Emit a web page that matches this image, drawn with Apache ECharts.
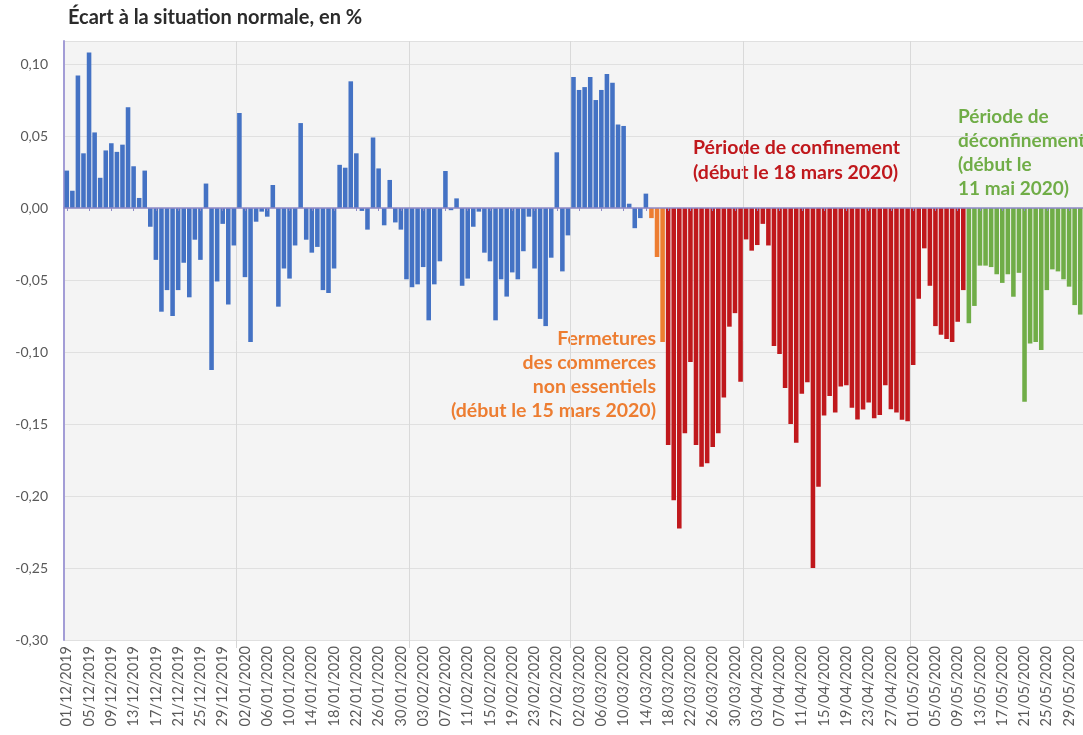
<!DOCTYPE html>
<html><head><meta charset="utf-8">
<script src="https://cdn.jsdelivr.net/npm/echarts@6/dist/echarts.min.js"></script>
<style>html,body{margin:0;padding:0;background:#fff}#c{width:1083px;height:735px}</style>
</head><body><div id="c"></div>
<script>
// ---- categories: one per day, 01/12/2019 .. 31/05/2020
const firstDay = [2019, 11, 1];   // year, month(0-based), day
const dayCount = 183;
const dates = [];
(function () {
  const d = new Date(Date.UTC(firstDay[0], firstDay[1], firstDay[2]));
  for (let i = 0; i < dayCount; i++) {
    const dd = String(d.getUTCDate()).padStart(2, '0');
    const mm = String(d.getUTCMonth() + 1).padStart(2, '0');
    dates.push(dd + '/' + mm + '/' + d.getUTCFullYear());
    d.setUTCDate(d.getUTCDate() + 1);
  }
})();

// ---- values (share)
const valuesDec = [0.026,0.012,0.092,0.038,0.108,0.0525,0.021,0.040,0.045,0.039,0.044,0.070,0.029,0.007,0.026,
  -0.013,-0.036,-0.072,-0.057,-0.075,-0.057,-0.038,-0.062,-0.022,-0.036,0.017,-0.1125,-0.051,-0.011,-0.067,-0.026];
const valuesJan = [0.066,-0.048,-0.093,-0.0095,-0.0025,-0.006,0.016,-0.0685,-0.042,-0.049,-0.026,0.059,-0.022,-0.031,
  -0.027,-0.057,-0.059,-0.042,0.030,0.028,0.088,0.038,-0.002,-0.015,0.049,0.0275,-0.012,0.0195,-0.010,-0.015,-0.0495];
const valuesFeb = [-0.055,-0.053,-0.041,-0.078,-0.053,-0.037,0.0257,-0.0015,0.0067,-0.054,-0.049,-0.013,-0.0025,
  -0.031,-0.037,-0.078,-0.0495,-0.0615,-0.0447,-0.0495,-0.030,-0.006,-0.042,-0.077,-0.082,-0.0345,0.0387,-0.044,-0.019];
const valuesMar = [0.091,0.082,0.084,0.091,0.075,0.082,0.093,0.087,0.058,0.057,0.003,-0.014,-0.007,0.010,
  -0.007,-0.034,-0.093,-0.1646,-0.203,-0.2225,-0.1565,-0.107,-0.1646,-0.1796,-0.1773,-0.166,-0.1565,-0.1315,
  -0.0824,-0.073,-0.1206];
const valuesApr = [-0.0218,-0.0296,-0.0257,-0.011,-0.026,-0.0958,-0.1014,-0.125,-0.150,-0.163,-0.129,-0.121,-0.250,
  -0.1935,-0.144,-0.1306,-0.142,-0.124,-0.123,-0.1387,-0.1468,-0.140,-0.135,-0.146,-0.1438,-0.123,-0.1398,-0.142,
  -0.147,-0.148];
const valuesMay = [-0.109,-0.063,-0.028,-0.054,-0.082,-0.088,-0.091,-0.093,-0.079,-0.057,
  -0.080,-0.068,-0.040,-0.040,-0.041,-0.046,-0.052,-0.046,-0.0616,-0.045,-0.1345,-0.094,-0.093,-0.0986,-0.057,
  -0.0426,-0.044,-0.0495,-0.0546,-0.0674,-0.074];
const values = [].concat(valuesDec, valuesJan, valuesFeb, valuesMar, valuesApr, valuesMay);

// ---- periods
const closureStart = '15/03/2020';
const lockdownStart = '18/03/2020';
const unlockStart = '11/05/2020';

const yTickLabels = ['-0,30','-0,25','-0,20','-0,15','-0,10','-0,05','0,00','0,05','0,10'];

const annotClosure = ['Fermetures', 'des commerces', 'non essentiels', '(début le 15 mars 2020)'];
const annotLockdown = ['Période de confinement', '(début le 18 mars 2020)'];
const annotUnlock = ['Période de', 'déconfinement', '(début le', '11 mai 2020)'];
const titleText = 'Écart à la situation normale, en %';

const COL = { normal: '#4472C4', closure: '#ED7D31', lockdown: '#C0181C', unlock: '#70AD47' };
const iClosure = dates.indexOf(closureStart);
const iLock = dates.indexOf(lockdownStart);
const iUnlock = dates.indexOf(unlockStart);
function colorFor(i) {
  if (i >= iUnlock) return COL.unlock;
  if (i >= iLock) return COL.lockdown;
  if (i >= iClosure) return COL.closure;
  return COL.normal;
}
const isMonthStart = (i, v) => i > 0 && String(dates[i]).slice(0, 2) === '01';

const FONT = 'Lato, "Open Sans", sans-serif';
const chart = echarts.init(document.getElementById('c'), null, { renderer: 'canvas' });
chart.setOption({
  animation: false,
  backgroundColor: '#ffffff',
  textStyle: { fontFamily: FONT },
  grid: { left: 64, right: -2, top: 41, bottom: 95, show: true, backgroundColor: '#f4f4f4', borderWidth: 0 },
  xAxis: [{
    type: 'category', data: dates, position: 'bottom',
    axisLine: { show: false, onZero: false },
    axisTick: { show: true, interval: isMonthStart, length: 8, lineStyle: { color: '#d6d6d6', width: 1 } },
    splitLine: { show: true, interval: isMonthStart, lineStyle: { color: '#d9d9d9', width: 1 } },
    axisLabel: { interval: 3, rotate: 90, fontSize: 14.5, color: '#595959', margin: 6, fontFamily: FONT }
  }, {
    type: 'category', data: dates, position: 'bottom', z: 5,
    axisLine: { show: true, onZero: true, lineStyle: { color: '#8e89c6', width: 1.5 } },
    axisTick: { show: true, interval: 3, alignWithLabel: true, length: 3, lineStyle: { color: '#8e89c6' } },
    axisLabel: { show: false }, splitLine: { show: false }
  }],
  yAxis: {
    type: 'value', min: -0.3, max: 0.116, interval: 0.05,
    axisLine: { show: true, lineStyle: { color: '#a39dd6', width: 2 } },
    axisTick: { show: false },
    splitLine: { show: true, lineStyle: { color: '#e0e0e0', width: 1 } },
    axisLabel: {
      showMaxLabel: false, fontSize: 14, color: '#595959', margin: 16, fontFamily: FONT,
      formatter: (v) => {
        const k = Math.round((v + 0.3) / 0.05);
        return (Math.abs((v + 0.3) / 0.05 - k) < 1e-6 && yTickLabels[k] !== undefined) ? yTickLabels[k] : '';
      }
    }
  },
  series: [{
    type: 'bar', xAxisIndex: 0, data: values, barCategoryGap: '18%',
    itemStyle: { color: (p) => colorFor(p.dataIndex) }
  }],
  graphic: [
    { type: 'text', left: 68, top: 8, style: { text: titleText, font: 'bold 20px ' + FONT, fill: '#2b2b2b' } },
    { type: 'text', x: 656, y: 327, style: { text: annotClosure.join('\n'), font: 'bold 19.5px ' + FONT, fill: COL.closure, textAlign: 'right', lineHeight: 24 } },
    { type: 'text', x: 693, y: 135, style: { text: annotLockdown.join('\n'), font: 'bold 19.5px ' + FONT, fill: COL.lockdown, textAlign: 'left', lineHeight: 25 } },
    { type: 'text', x: 958, y: 105, style: { text: annotUnlock.join('\n'), font: 'bold 19px ' + FONT, fill: COL.unlock, textAlign: 'left', lineHeight: 24 } }
  ]
});
</script></body></html>
